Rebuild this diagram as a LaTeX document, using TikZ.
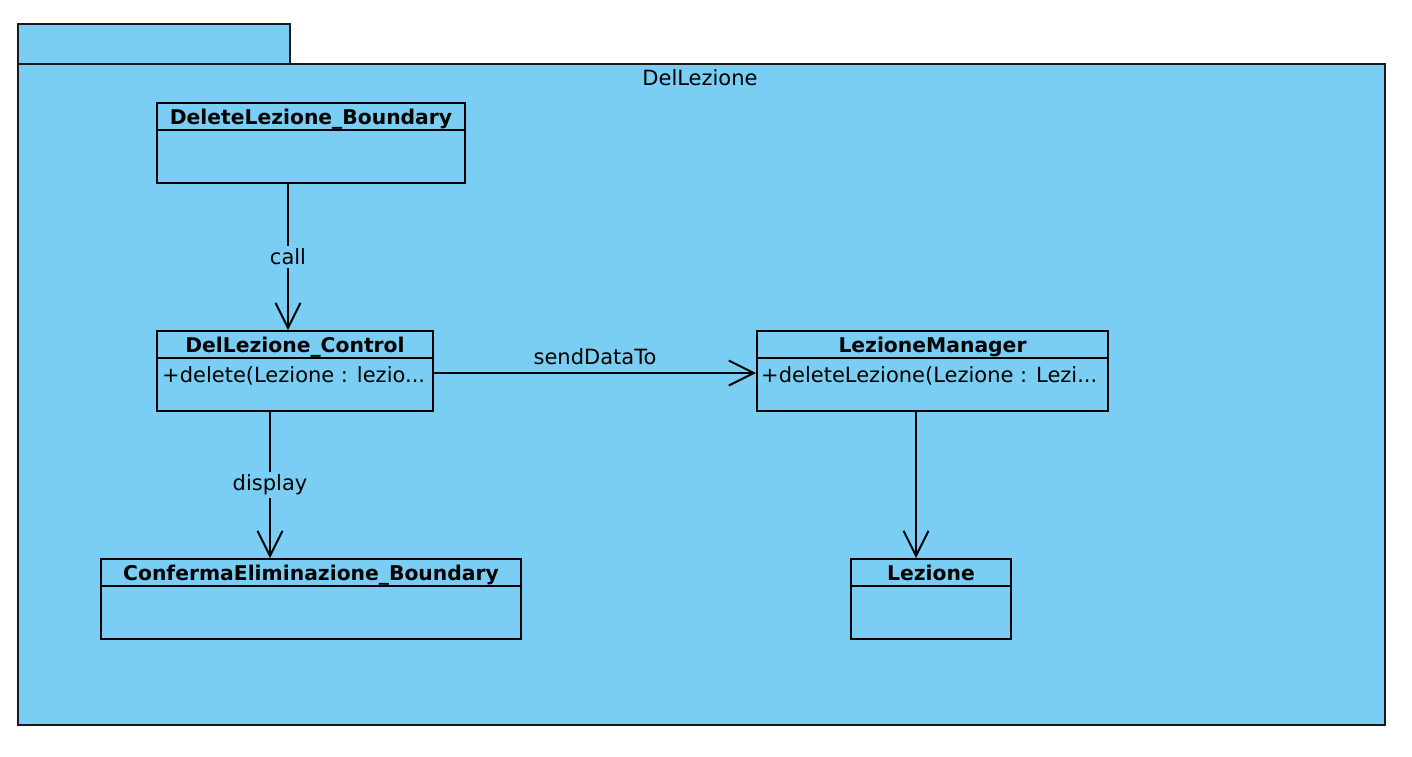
\documentclass[tikz,border=0pt]{standalone}
\usepackage{fontspec}
\setmainfont{DejaVu Sans}
\usetikzlibrary{arrows.meta}
\definecolor{pkgblue}{HTML}{7ACEF4}
\newcommand{\umlcls}[6]{%
  \node[classbox, minimum width=#4pt, minimum height=#5pt] (#1) at (#2,#3) {};
  \draw[divline] ([yshift=-28pt]#1.north west) -- ([yshift=-28pt]#1.north east);
  \node[ctitle] (#1-t) at ([yshift=-22pt]#1.north) {#6};
}
\begin{document}
\begin{tikzpicture}[x=1pt,y=-1pt,
  every node/.style={font=\fontsize{21}{25}\selectfont, inner sep=0pt},
  pkgshape/.style={draw=black!90, line width=2pt, fill=pkgblue},
  classbox/.style={draw=black, line width=2pt, fill=pkgblue, rectangle, anchor=north west, inner sep=0pt},
  divline/.style={line width=2pt},
  ctitle/.style={font=\fontsize{20.3}{24}\selectfont\bfseries, anchor=base},
  cmethod/.style={anchor=base west},
  assoc/.style={line width=2pt, -{Straight Barb[length=25pt,width=25pt]}},
  alabel/.style={fill=pkgblue, inner sep=3pt}]

\useasboundingbox (0,0) rectangle (1412,756);
\fill[white] (0,0) rectangle (1412,756);

% package
\draw[pkgshape] (18,24) rectangle (290,64);
\draw[pkgshape] (18,64) rectangle (1385,725);
\node[anchor=base] (pkgname) at (700,85) {DelLezione};

% classes
\umlcls{dlb}{156}{102}{308}{80}{DeleteLezione\_Boundary}
\umlcls{dlc}{156}{330}{276}{80}{DelLezione\_Control}
\umlcls{lm}{756}{330}{351}{80}{LezioneManager}
\umlcls{ceb}{100}{558}{420}{80}{ConfermaEliminazione\_Boundary}
\umlcls{lz}{850}{558}{160}{80}{Lezione}

\node[cmethod] (dlc-m) at ([xshift=6pt,yshift=-52pt]dlc.north west) {+delete(Lezione : lezio...};
\node[cmethod] (lm-m) at ([xshift=5pt,yshift=-52pt]lm.north west) {+deleteLezione(Lezione : Lezi...};

% connectors
\coordinate (callx) at (288,0);
\coordinate (dispx) at (270,0);
\coordinate (sendy) at (0,373);
\coordinate (lzx) at (916,0);

\draw[assoc] (dlb.south -| callx) -- node[alabel] (lcall) {call} (dlc.north -| callx);
\draw[assoc] (dlc.south -| dispx) -- node[alabel] (ldisp) {display} (ceb.north -| dispx);
\draw[assoc] (dlc.east |- sendy) -- node[midway, yshift=16pt] (lsend) {sendDataTo} (lm.west |- sendy);
\draw[assoc] (lm.south -| lzx) -- (lz.north -| lzx);
\end{tikzpicture}
\end{document}
